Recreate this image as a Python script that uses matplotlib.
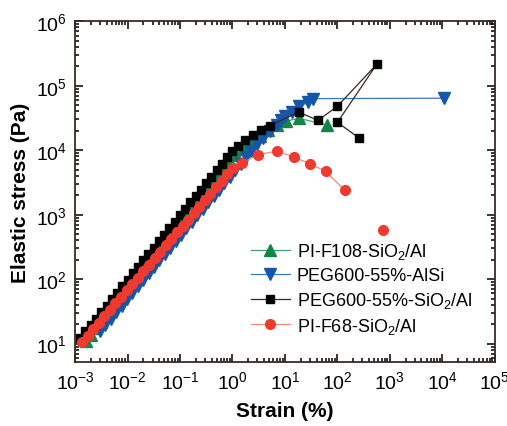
import matplotlib
matplotlib.use("Agg")
import matplotlib.pyplot as plt
from matplotlib.ticker import LogLocator, LogFormatterSciNotation, NullFormatter

plt.rcParams['font.family'] = ['Liberation Sans', 'DejaVu Sans']
plt.rcParams['mathtext.default'] = 'regular'

# PI-F108-SiO2/Al (green up triangles)
f108_strain = [1.62e-3, 2.03e-3, 2.54e-3, 3.17e-3, 3.96e-3, 4.95e-3, 6.21e-3, 7.76e-3, 9.70e-3,
               0.0121, 0.0152, 0.0190, 0.0237, 0.0297, 0.0371, 0.0463, 0.0581, 0.0726, 0.0908,
               0.114, 0.142, 0.177, 0.222, 0.277, 0.347, 0.434, 0.542, 0.678, 0.847,
               1.15, 1.58, 2.29, 3.31, 4.79, 7.08, 10.5, 18.2, 64.0]
f108_stress = [11.0, 13.8, 17.4, 21.9, 27.5, 34.7, 43.7, 55.0, 69.2,
               87.1, 110, 138, 174, 219, 275, 347, 437, 550, 692,
               871, 1100, 1380, 1740, 2190, 2750, 3470, 4370, 5500, 6920,
               8300, 1.05e4, 1.32e4, 1.66e4, 2.04e4, 2.45e4, 2.8e4, 3.13e4, 2.45e4]

# PEG600-55%-AlSi (blue down triangles)
alsi_strain = [2.99e-3, 3.79e-3, 4.81e-3, 6.10e-3, 7.73e-3, 9.79e-3, 0.0124, 0.0157, 0.0200,
               0.0253, 0.0321, 0.0407, 0.0516, 0.0655, 0.0830, 0.105, 0.133, 0.169, 0.214,
               0.272, 0.344, 0.436, 0.553, 0.701, 0.889, 1.13, 1.43, 1.81, 2.29,
               2.95, 3.89, 5.13, 6.92, 8.5, 10.0, 13.4, 18.8, 27.5, 34.7, 1.07e4]
alsi_stress = [15.5, 19.5, 24.5, 30.9, 38.9, 49.0, 61.7, 77.6, 97.7,
               123, 155, 195, 245, 309, 389, 490, 617, 776, 977,
               1230, 1550, 1950, 2450, 3090, 3890, 4900, 6170, 7760, 9770,
               1.23e4, 1.55e4, 1.95e4, 2.45e4, 2.9e4, 3.4e4, 3.9e4, 4.8e4, 5.5e4, 6.3e4, 6.4e4]

# PEG600-55%-SiO2/Al (black squares)
peg_strain = [1.26e-3, 1.58e-3, 2.0e-3, 2.51e-3, 3.16e-3, 3.98e-3, 5.01e-3, 6.31e-3, 7.94e-3,
              0.01, 0.0126, 0.0158, 0.02, 0.0251, 0.0316, 0.0398, 0.0501, 0.0631, 0.0794,
              0.1, 0.126, 0.158, 0.2, 0.251, 0.316, 0.398, 0.501, 0.631, 0.794,
              1.0, 1.29, 1.74, 2.5, 3.47, 5.13, 18.2, 42.7, 100, 562, 100, 257]
peg_stress = [12.3, 15.5, 19.5, 24.5, 30.9, 38.9, 49.0, 61.7, 77.6,
              97.7, 123, 155, 195, 245, 309, 389, 490, 617, 776,
              977, 1230, 1550, 1950, 2450, 3090, 3890, 4900, 6170, 7760,
              9550, 1.18e4, 1.42e4, 1.7e4, 2.04e4, 2.4e4, 3.9e4, 2.9e4, 4.8e4, 2.15e5, 2.7e4, 1.55e4]

# PI-F68-SiO2/Al (red circles); last point is not joined by the line
f68_strain = [1.36e-3, 1.73e-3, 2.22e-3, 2.83e-3, 3.62e-3, 4.62e-3, 5.90e-3, 7.55e-3, 9.64e-3,
              0.0123, 0.0157, 0.0201, 0.0257, 0.0328, 0.0419, 0.0536, 0.0684, 0.0873, 0.112,
              0.143, 0.182, 0.233, 0.297, 0.380, 0.485, 0.621, 0.792, 1.01,
              1.54, 3.09, 6.95, 14.8, 29.9, 59.6, 139, 726]
f68_stress = [10.6, 13.3, 16.8, 21.1, 26.6, 33.5, 42.2, 53.1, 66.8,
              84.1, 106, 133, 168, 211, 266, 335, 422, 531, 668,
              841, 1060, 1330, 1680, 2110, 2660, 3350, 4220, 5310,
              6380, 8490, 9680, 7820, 6170, 4690, 2380, 574]

labels = ['PI-F108-SiO$_2$/Al', 'PEG600-55%-AlSi', 'PEG600-55%-SiO$_2$/Al', 'PI-F68-SiO$_2$/Al']

fig = plt.figure(figsize=(5.07, 4.27), dpi=100)
ax = fig.add_axes([0.148, 0.15, 0.828, 0.798])

ax.plot(f108_strain, f108_stress, color='#3aa86a', marker='^', mfc='#14854a', mec='#14854a',
        markersize=8, linewidth=0.9, label=labels[0])
ax.plot(alsi_strain, alsi_stress, color='#3a78c8', marker='v', mfc='#1656a8', mec='#1656a8',
        markersize=8, linewidth=0.9, label=labels[1])
ax.plot(peg_strain, peg_stress, color='#3a2520', marker='s', mfc='black', mec='black',
        markersize=6.3, linewidth=0.9, label=labels[2])
ax.plot(f68_strain[:-1], f68_stress[:-1], color='#f58a70', marker='o', mfc='#f03a30', mec='#f03a30',
        markersize=7, linewidth=0.9, label=labels[3])
ax.plot(f68_strain[-1:], f68_stress[-1:], linestyle='none', marker='o', mfc='#f03a30', mec='#f03a30',
        markersize=7)

ax.set_xscale('log')
ax.set_yscale('log')
ax.set_xlim(1e-3, 1e5)
ax.set_ylim(5.2, 1e6)

ax.xaxis.set_major_locator(LogLocator(base=10, numticks=20))
ax.yaxis.set_major_locator(LogLocator(base=10, numticks=20))
ax.xaxis.set_minor_locator(LogLocator(base=10, subs=range(2, 10), numticks=20))
ax.yaxis.set_minor_locator(LogLocator(base=10, subs=range(2, 10), numticks=20))
ax.xaxis.set_major_formatter(LogFormatterSciNotation())
ax.yaxis.set_major_formatter(LogFormatterSciNotation())
ax.xaxis.set_minor_formatter(NullFormatter())
ax.yaxis.set_minor_formatter(NullFormatter())

ax.tick_params(which='both', direction='in', top=True, right=True, labelsize=14, width=1.1)
ax.tick_params(which='major', length=6, pad=6)
ax.tick_params(which='minor', length=3)
for s in ax.spines.values():
    s.set_linewidth(1.3)
    s.set_color('#3a2a22')

ax.set_xlabel('Strain (%)', fontsize=15, fontweight='bold', labelpad=6)
ax.set_ylabel('Elastic stress (Pa)', fontsize=15, fontweight='bold', labelpad=4)

ax.legend(loc='lower right', bbox_to_anchor=(0.972, 0.045), frameon=False, fontsize=13,
          handlelength=2.2, handletextpad=0.35, labelspacing=0.32, borderaxespad=0.2)

fig.savefig('out.png', dpi=100)
